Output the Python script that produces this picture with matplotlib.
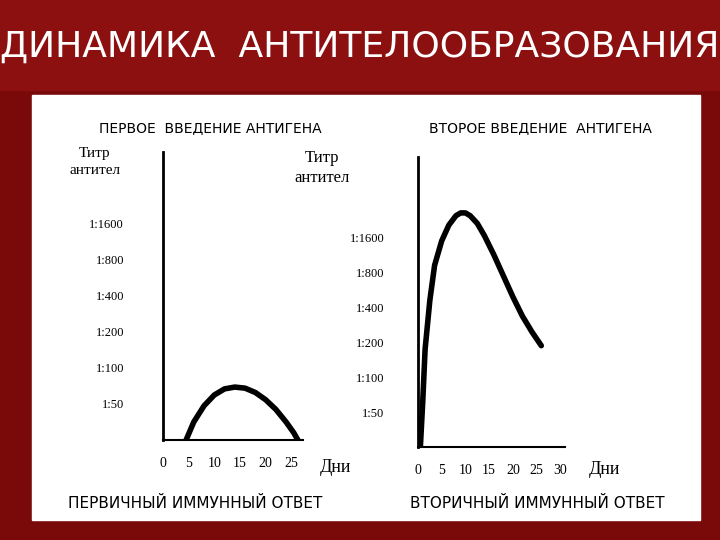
import matplotlib
matplotlib.use("Agg")
import matplotlib.pyplot as plt
from matplotlib.patches import Rectangle

title = "ДИНАМИКА  АНТИТЕЛООБРАЗОВАНИЯ"
titre_labels = ["1:50", "1:100", "1:200", "1:400", "1:800", "1:1600"]
titre_levels = [1, 2, 3, 4, 5, 6]
day_ticks_1 = [0, 5, 10, 15, 20, 25]
day_ticks_2 = [0, 5, 10, 15, 20, 25, 30]

days_primary = [4.5, 6, 8, 10, 12, 14, 16, 18, 20, 22, 24, 25.5, 26.3]
level_primary = [0, 0.5, 0.95, 1.25, 1.42, 1.47, 1.44, 1.32, 1.12, 0.85, 0.5, 0.2, 0]
days_secondary = [0.5, 1, 1.5, 2.5, 3.5, 5, 6.5, 8, 9, 10, 11, 12.5, 14, 16, 18, 20, 22, 24, 26]
level_secondary = [0, 1.3, 2.8, 4.2, 5.2, 5.9, 6.35, 6.62, 6.7, 6.7, 6.62, 6.4, 6.05, 5.5, 4.9, 4.3, 3.75, 3.3, 2.9]

W, H = 720, 540
fig = plt.figure(figsize=(7.2, 5.4), dpi=100, facecolor="#7a0a0a")
bg = fig.add_axes([0, 0, 1, 1]); bg.set_axis_off()
bg.set_xlim(0, W); bg.set_ylim(H, 0)
bg.add_patch(Rectangle((0, 0), W, 90, color="#8c1010"))
bg.add_patch(Rectangle((32, 95), 668, 425, color="white"))
bg.text(360, 47, title, color="white", fontsize=26, ha="center", va="center",
        family="DejaVu Sans")
bg.text(210, 128, "ПЕРВОЕ  ВВЕДЕНИЕ АНТИГЕНА", fontsize=10, ha="center", va="center")
bg.text(540, 128, "ВТОРОЕ ВВЕДЕНИЕ  АНТИГЕНА", fontsize=10, ha="center", va="center")
bg.text(195, 503, "ПЕРВИЧНЫЙ ИММУННЫЙ ОТВЕТ", fontsize=11, ha="center", va="center")
bg.text(537, 503, "ВТОРИЧНЫЙ ИММУННЫЙ ОТВЕТ", fontsize=11, ha="center", va="center")
serif = "Liberation Serif"
bg.text(95, 162, "Титр\nантител", fontsize=11, ha="center", va="center", family=serif, linespacing=1.3)
bg.text(322, 168, "Титр\nантител", fontsize=12, ha="center", va="center", family=serif, linespacing=1.3)
bg.text(335, 468, "Дни", fontsize=13, ha="center", va="center", family=serif)
bg.text(604, 470, "Дни", fontsize=13, ha="center", va="center", family=serif)

def make(ax, days, levels, ticks, xmax, ymax, offset):
    ax.plot(days, levels, color="black", lw=4, solid_capstyle="round")
    ax.set_xlim(0, xmax); ax.set_ylim(0, ymax)
    for s in ["top", "right"]:
        ax.spines[s].set_visible(False)
    ax.spines["left"].set_linewidth(2); ax.spines["bottom"].set_linewidth(1.5)
    ax.set_xticks(ticks); ax.set_xticklabels([str(t) for t in ticks], family=serif, fontsize=10)
    ax.set_yticks(titre_levels); ax.set_yticklabels(titre_labels, family=serif, fontsize=9)
    ax.tick_params(axis="y", length=0, pad=offset)
    ax.tick_params(axis="x", length=0, pad=12)
    ax.set_facecolor("none")

ax1 = fig.add_axes([163/W, 1-440/H, 140/W, 288/H])
make(ax1, days_primary, level_primary, day_ticks_1, 27.3, 8, 28)
ax2 = fig.add_axes([418/W, 1-447/H, 147/W, 290/H])
make(ax2, days_secondary, level_secondary, day_ticks_2, 31, 8.3, 24)
fig.savefig("out.png", dpi=100, facecolor=fig.get_facecolor())
